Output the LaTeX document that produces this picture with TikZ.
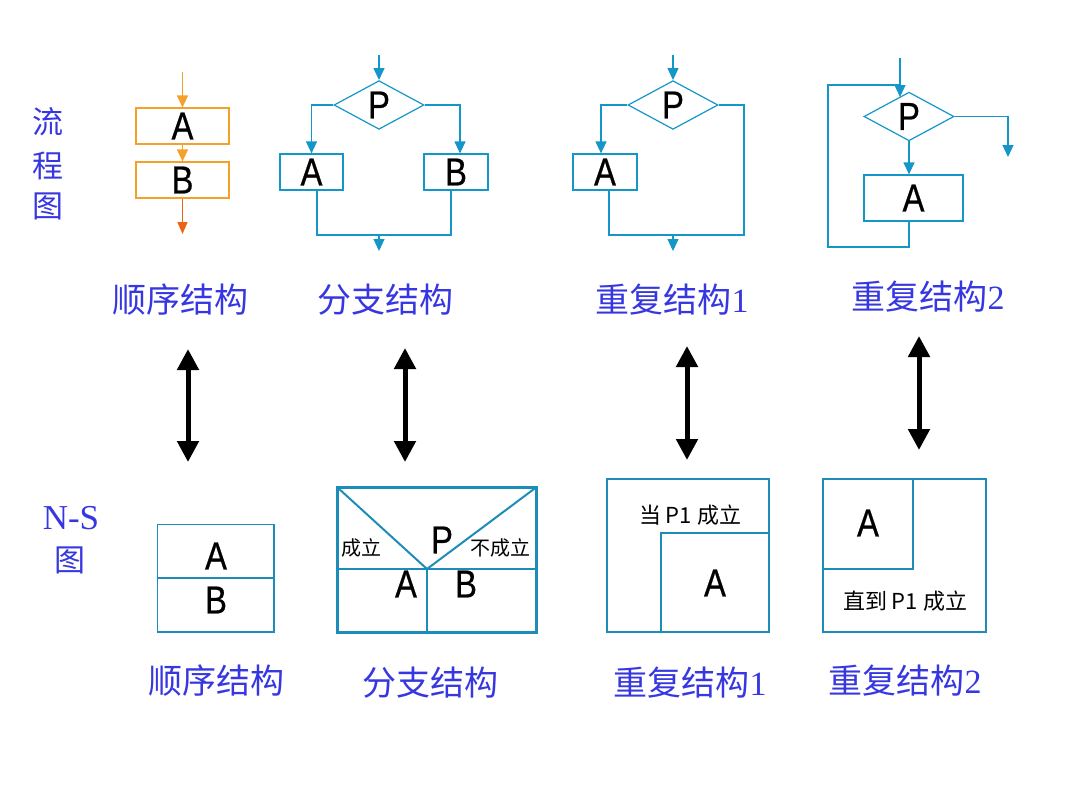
\documentclass[tikz,border=0pt]{standalone}
\usepackage{fontspec}
\setmainfont{Liberation Serif}
\newfontfamily\cjk{Noto Sans CJK SC}
\newfontfamily\nar[FakeStretch=0.84,FakeBold=0.6]{Liberation Sans}
\usetikzlibrary{shapes.geometric,arrows.meta}
\definecolor{flowC}{RGB}{20,150,200}
\definecolor{nsC}{RGB}{30,140,185}
\definecolor{orangeC}{RGB}{245,160,40}
\definecolor{dorangeC}{RGB}{235,100,20}
\definecolor{labC}{RGB}{55,55,225}
\tikzset{
  lab/.style={font=\fontsize{34}{34}\selectfont, text=labC, inner sep=0},
  letter/.style={font=\nar\fontsize{39}{39}\selectfont, inner sep=0},
  obox/.style={draw=orangeC, line width=1.2, minimum width=93, minimum height=36, inner sep=0, letter},
  fbox/.style={draw=flowC, line width=1.2, inner sep=0, letter},
  dia/.style={draw=flowC, line width=1.2, shape=diamond, inner sep=0, minimum width=90, minimum height=44, letter},
  fline/.style={draw=flowC, line width=1.2},
  farr/.style={draw=flowC, line width=1.2, -{Triangle[length=12,width=11]}},
  oarr/.style={draw=orangeC, line width=1.2, -{Triangle[length=12,width=11]}},
  darr/.style={draw=dorangeC, line width=1.5, -{Triangle[length=12,width=10]}},
  dbl/.style={draw=black, line width=5, {Triangle[length=21,width=21]}-{Triangle[length=21,width=21]}},
  nsl/.style={draw=nsC, line width=1.5},
  small/.style={font=\cjk\fontsize{20}{20}\selectfont, inner sep=0},
}
\begin{document}
\begin{tikzpicture}[x=1pt,y=-1pt]
\useasboundingbox (0,0) rectangle (1077,806);
% left labels
\node[lab, font=\cjk\fontsize{31}{31}\selectfont] (l1) at (48,122) {流};
\node[lab, font=\cjk\fontsize{31}{31}\selectfont] (l2) at (48,166) {程};
\node[lab, font=\cjk\fontsize{31}{31}\selectfont] (l3) at (48,206) {图};
\node[lab, font=\fontsize{35}{35}\selectfont] (l4) at (71,518) {N-S};
\node[lab, font=\cjk\fontsize{31}{31}\selectfont] (l5) at (70,560) {图};

% ===== sequence flowchart
\node[obox] (sA) at (182.5,126) {A};
\node[obox] (sB) at (182.5,180) {B};
\coordinate (s0) at (182.5,72);
\coordinate (s3) at (182.5,234);
\draw[oarr] (s0) -- (sA);
\draw[oarr] (sA) -- (sB);
\draw[darr] (sB) -- (s3);

% ===== branch flowchart
\node[dia] (bP) at (379,105) {P};
\node[fbox, minimum width=63, minimum height=36] (bA) at (311.5,172) {A};
\node[fbox, minimum width=64, minimum height=36] (bB) at (456,172) {B};
\coordinate (b0) at (379,55);
\coordinate (bj) at (379,235);
\coordinate (bout) at (379,251);
\draw[farr] (b0) -- (bP);
\draw[farr] (bP.west) -| (bA.north);
\draw[farr] (bP.east) -| ([xshift=4]bB.north);
\draw[fline] ([xshift=5.5]bA.south) |- (bj) -| ([xshift=-5]bB.south);
\draw[farr] (bj) -- (bout);

% ===== repeat 1 flowchart
\node[dia] (rP) at (673,105) {P};
\node[fbox, minimum width=64, minimum height=36] (rA) at (605,172) {A};
\coordinate (r0) at (673,55);
\coordinate (rr) at (744,235);
\coordinate (rj) at (673,235);
\coordinate (rout) at (673,251);
\draw[farr] (r0) -- (rP);
\draw[farr] (rP.west) -| ([xshift=-4]rA.north);
\draw[fline] (rP.east) -| (rr) -| ([xshift=4]rA.south);
\draw[farr] (rj) -- (rout);

% ===== repeat 2 flowchart
\node[dia] (qP) at (909,116.5) {P};
\node[fbox, minimum width=99, minimum height=46] (qA) at (913.5,198) {A};
\coordinate (q0) at (900,58);
\coordinate (qhit) at (900,97);
\coordinate (qj) at (900,85);
\coordinate (ql) at (828,247);
\coordinate (qout) at (1008,157);
\draw[farr] (q0) -- (qhit);
\draw[fline] ([xshift=-4.5]qA.south) |- (ql) |- (qj);
\draw[farr] (qP.east) -| (qout);
\draw[farr] (qP.south) -- ([xshift=-4.5]qA.north);

% top labels
\node[lab] (t1) at (180,300) {\cjk 顺序结构};
\node[lab] (t2) at (385,300) {\cjk 分支结构};
\node[lab] (t3) at (672,300) {{\cjk 重复结构}1};
\node[lab] (t4) at (928,297) {{\cjk 重复结构}2};

% double arrows
\coordinate (d1a) at (188,349); \coordinate (d1b) at (188,462);
\coordinate (d2a) at (405,348); \coordinate (d2b) at (405,462);
\coordinate (d3a) at (687,346); \coordinate (d3b) at (687,460);
\coordinate (d4a) at (919,336); \coordinate (d4b) at (919,450);
\draw[dbl] (d1a) -- (d1b);
\draw[dbl] (d2a) -- (d2b);
\draw[dbl] (d3a) -- (d3b);
\draw[dbl] (d4a) -- (d4b);

% ===== N-S sequence
\draw[nsl] (157.5,524.5) rectangle (274,632);
\draw[nsl] (157.5,578) -- (274,578);
\node[letter] (nA) at (216,556) {A};
\node[letter] (nB) at (216,600) {B};

% ===== N-S branch
\draw[draw=nsC, line width=3] (337.5,487.5) rectangle (536,632);
\draw[draw=nsC, line width=2] (337.5,569) -- (536,569);
\draw[draw=nsC, line width=2] (427,569) -- (427,632);
\draw[draw=nsC, line width=2] (337.5,487.5) -- (427,569) -- (536,487.5);
\node[small] (m1) at (361,548) {成立};
\node[small] (m2) at (500,548) {不成立};
\node[letter] (mP) at (442,540) {P};
\node[letter] (mA) at (406,584) {A};
\node[letter] (mB) at (466,584) {B};

% ===== N-S repeat 1
\draw[nsl] (607,479) rectangle (769,632);
\draw[nsl] (661,632) -- (661,533) -- (769,533);
\node[font=\cjk\fontsize{22}{22}\selectfont, inner sep=0] (w1) at (690,515) {当 P1 成立};
\node[letter] (w2) at (715,583) {A};

% ===== N-S repeat 2
\draw[nsl] (823,479) rectangle (986,632);
\draw[nsl] (823,569) -- (913,569) -- (913,479);
\node[letter] (u2) at (868,523) {A};
\node[font=\cjk\fontsize{22}{22}\selectfont, inner sep=0] (u1) at (905,601) {直到 P1 成立};

% bottom labels
\node[lab] (b1) at (216,681) {\cjk 顺序结构};
\node[lab] (b2) at (430,683) {\cjk 分支结构};
\node[lab] (b3) at (690,683) {{\cjk 重复结构}1};
\node[lab] (b4) at (905,681) {{\cjk 重复结构}2};
\end{tikzpicture}
\end{document}
